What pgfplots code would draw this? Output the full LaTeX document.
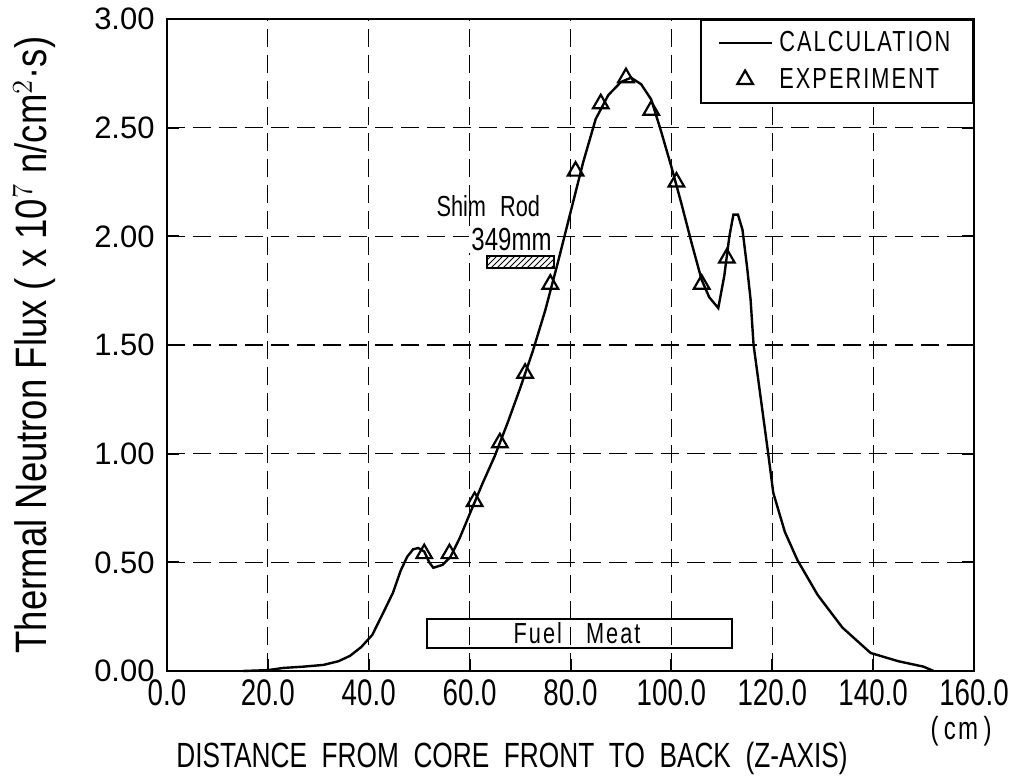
\documentclass[border=0pt]{standalone}
\usepackage{fontspec}
\setmainfont{Liberation Sans}
\newfontfamily\cond[FakeStretch=0.75]{Liberation Sans}
\newfontfamily\condy[FakeStretch=0.83]{Liberation Sans}
\newfontfamily\condsp[FakeStretch=0.75,LetterSpace=7]{Liberation Sans}
\usepackage{pgfplots}
\pgfplotsset{compat=1.18}
\usetikzlibrary{patterns}

\pgfplotstableread{
x y
15 0
20 0.004
23 0.014
27 0.02
31 0.028
34 0.045
36.3 0.07
38.5 0.11
40.7 0.166
42.7 0.26
44.8 0.36
46.3 0.46
47.6 0.525
48.8 0.56
49.8 0.566
51 0.55
52 0.50
52.8 0.475
54.6 0.488
56.2 0.525
58 0.61
60.1 0.727
62.5 0.86
65 0.99
67.5 1.14
70 1.30
72.5 1.47
75 1.66
77.5 1.88
80 2.11
82.5 2.34
85 2.54
87.5 2.65
90 2.71
92 2.73
94 2.70
96 2.63
98 2.48
100 2.32
102 2.15
104 1.97
106 1.80
107.5 1.72
109.3 1.67
110.5 1.82
111.5 2.00
112.3 2.10
113.2 2.10
114.1 2.03
115 1.86
115.7 1.71
116.3 1.50
119.2 1.00
120.2 0.82
122.5 0.64
125 0.51
129 0.35
133.9 0.20
139.5 0.083
145 0.045
150 0.02
152 0.0
}\calc

\pgfplotstableread{
x y
51 0.54
56 0.54
61 0.78
66 1.05
71 1.37
76 1.78
81 2.30
86 2.61
91 2.73
96 2.58
101 2.25
106 1.78
111 1.90
}\expt

\begin{document}
\begin{tikzpicture}
\begin{axis}[
  scale only axis, width=403.5pt, height=326pt,
  xmin=0, xmax=160, ymin=0, ymax=3,
  xtick={0,20,...,160}, ytick={0,0.5,...,3},
  grid=major,
  major grid style={black, line width=0.6pt, dash pattern=on 9pt off 4pt},
  axis line style={line width=1.3pt},
  tick style={black, line width=1pt},
  major tick length=6pt,
  tick align=inside,
  xtick pos=bottom, ytick pos=both,
  /pgf/number format/assume math mode=true,
  xticklabel style={font=\cond\fontsize{18.5}{20}\selectfont, anchor=north, inner sep=4pt,
     /pgf/number format/.cd, fixed, fixed zerofill, precision=1},
  yticklabel style={font=\fontsize{15.5}{18}\selectfont, anchor=east, inner xsep=6pt,
     /pgf/number format/.cd, fixed, fixed zerofill, precision=2},
  ylabel={Thermal Neutron Flux ( x 10$^{7}$ n/cm$^{2}$·s)},
  ylabel style={font=\condy\fontsize{22}{24}\selectfont, at={(axis description cs:-0.164,0.5)}, anchor=center, rotate=0},
  xlabel={DISTANCE\ \ FROM\ \ CORE\ \ FRONT\ \ TO\ \ BACK\ \ (Z-AXIS)},
  xlabel style={font=\cond\fontsize{17.5}{20}\selectfont, at={(axis description cs:0.4275,0)}, anchor=center, yshift=-43.5pt},
  clip=false,
  legend style={at={(1,1)}, anchor=north east, draw=black, line width=1pt, fill=white,
     font=\condsp\fontsize{14.5}{17}\selectfont, inner xsep=8pt, inner ysep=2.5pt,
     nodes={inner sep=3.3pt}},
  legend cell align=left,
  legend image code/.code={\draw[mark repeat=2,mark phase=2,#1] plot coordinates {(0pt,0pt) (13.25pt,0pt) (26.5pt,0pt)};},
]
\addplot[black, line width=1.2pt, mark=none] table {\calc};
\addlegendentry{CALCULATION}
\addplot[only marks, mark=triangle, mark size=4.5pt, mark options={fill=white, line width=1.1pt, black}] table {\expt};
\addlegendentry{EXPERIMENT}

\draw[line width=1pt] (axis cs:51.6,0.106) rectangle (axis cs:112.1,0.239);
\node[font=\condsp\fontsize{14.5}{16}\selectfont] at (axis cs:81.3,0.172) {Fuel\hspace{12pt}Meat};
\draw[line width=1pt, pattern=north east lines] (axis cs:63.5,1.855) rectangle (axis cs:76.8,1.91);
\node[font=\cond\fontsize{14.5}{16}\selectfont] at (axis cs:63.7,2.14) {Shim\hspace{7pt}Rod};
\node[font=\cond\fontsize{16}{18}\selectfont, fill=white, inner sep=1pt] at (axis cs:68.3,1.985) {349mm};
\node[font=\condsp\fontsize{16}{18}\selectfont] at (rel axis cs:0.984,0) [yshift=-30pt] {(\,cm\,)};
\end{axis}
\pgfresetboundingbox
\path[use as bounding box] (-83.5pt,-56pt) rectangle (427.5pt,335.5pt);
\end{tikzpicture}
\end{document}
